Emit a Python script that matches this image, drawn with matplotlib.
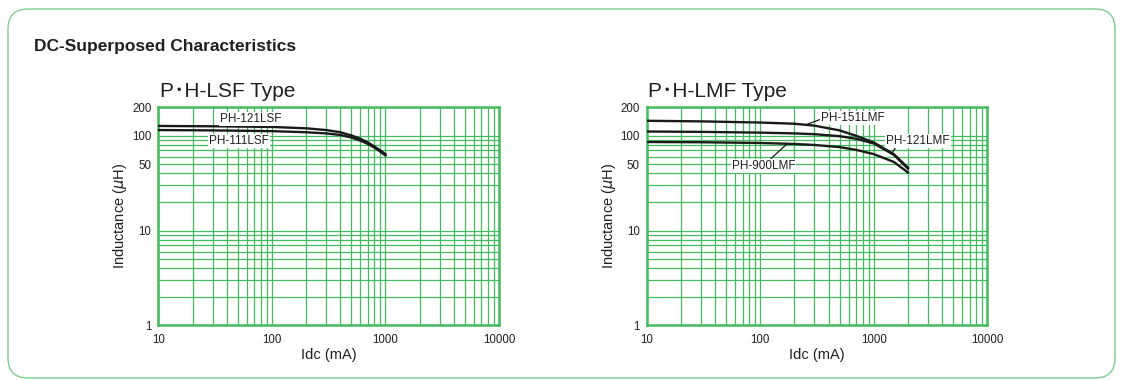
import numpy as np
import matplotlib
matplotlib.use("Agg")
import matplotlib.pyplot as plt
from matplotlib.ticker import LogLocator, NullFormatter, FixedLocator, FixedFormatter
from matplotlib.patches import FancyBboxPatch

plt.rcParams['font.family'] = ['Liberation Sans', 'Noto Sans CJK JP', 'DejaVu Sans']

# --- Daten ---
lsf_ma = [10, 30, 100, 200, 300, 400, 500, 600, 700, 800, 900, 1000]
ph121lsf = [127, 126, 124, 120, 115, 109, 101, 93, 85, 77, 70, 64]
ph111lsf = [115, 114, 112, 109, 106, 102, 96, 89, 82, 75, 68, 62]

lmf_ma = [10, 30, 100, 200, 300, 500, 700, 1000, 1500, 2000]
ph151lmf = [144, 142, 138, 134, 128, 114, 100, 85, 64, 46]
ph121lmf = [111, 110, 108, 106, 104, 99, 93, 83, 63, 45]
ph900lmf = [86, 85.5, 84, 82, 80, 76, 71, 64, 53, 41]

x_ticks = [10, 100, 1000, 10000]
y_ticks = [1, 10, 50, 100, 200]

GREEN = '#45bb5f'
FRAME = '#7ccf8c'
TXT = '#231f20'
LINE = '#1a1a1a'

fig = plt.figure(figsize=(11.23, 3.80), dpi=100)

# Hintergrund-Achse in Pixeln für den abgerundeten Rahmen
bg = fig.add_axes([0, 0, 1, 1], zorder=-5)
bg.set_xlim(0, 1123)
bg.set_ylim(380, 0)
bg.axis('off')
bg.add_patch(FancyBboxPatch((8, 9), 1107, 369,
                            boxstyle="round,pad=0,rounding_size=20",
                            fill=False, edgecolor=FRAME, linewidth=1.0))

fig.text(34 / 1123, 1 - 46 / 380, 'DC-Superposed Characteristics',
         fontsize=12.5, fontweight='bold', color=TXT, va='center', ha='left')


def setup_axes(ax, title):
    ax.set_xscale('log')
    ax.set_yscale('log')
    ax.set_xlim(10, 10000)
    ax.set_ylim(1, 200)
    ax.xaxis.set_major_locator(FixedLocator(x_ticks))
    ax.xaxis.set_major_formatter(FixedFormatter([str(t) for t in x_ticks]))
    ax.xaxis.set_minor_locator(LogLocator(base=10, subs=np.arange(2, 10)))
    ax.xaxis.set_minor_formatter(NullFormatter())
    ax.yaxis.set_major_locator(FixedLocator(y_ticks))
    ax.yaxis.set_major_formatter(FixedFormatter([str(t) for t in y_ticks]))
    ax.yaxis.set_minor_locator(LogLocator(base=10, subs=np.arange(2, 10)))
    ax.yaxis.set_minor_formatter(NullFormatter())
    ax.grid(which='both', color=GREEN, linewidth=0.9)
    ax.set_axisbelow(True)
    ax.tick_params(which='both', length=0, labelsize=8.3, labelcolor=TXT)
    ax.tick_params(axis='x', pad=6)
    ax.tick_params(axis='y', pad=5)
    for s in ax.spines.values():
        s.set_color(GREEN)
        s.set_linewidth(1.8)
    ax.set_xlabel('Idc (mA)', fontsize=10.5, color=TXT, labelpad=2)
    ax.set_ylabel(r'Inductance ($\mu$H)', fontsize=10.5, color=TXT, labelpad=2)
    ax.text(0.005, 1.03, title, transform=ax.transAxes, fontsize=15,
            color=TXT, ha='left', va='bottom')


box = dict(facecolor='white', edgecolor='none', pad=0.8)
leader = dict(arrowstyle='-', color=LINE, lw=0.9, shrinkA=0, shrinkB=0)

# linkes Diagramm
ax1 = fig.add_axes([0.1410, 0.1440, 0.3034, 0.5737])
setup_axes(ax1, 'P\uff65H-LSF Type')
ax1.plot(lsf_ma, ph121lsf, color=LINE, lw=1.7, zorder=3)
ax1.plot(lsf_ma, ph111lsf, color=LINE, lw=1.7, zorder=3)
ax1.text(65, 151, 'PH-121LSF', fontsize=8.5, color=TXT, ha='center', va='center', bbox=box, zorder=4)
ax1.text(51, 88, 'PH-111LSF', fontsize=8.5, color=TXT, ha='center', va='center', bbox=box, zorder=4)

# rechtes Diagramm
ax2 = fig.add_axes([0.5759, 0.1440, 0.3033, 0.5737])
setup_axes(ax2, 'P\uff65H-LMF Type')
ax2.plot(lmf_ma, ph151lmf, color=LINE, lw=1.7, zorder=3)
ax2.plot(lmf_ma, ph121lmf, color=LINE, lw=1.7, zorder=3)
ax2.plot(lmf_ma, ph900lmf, color=LINE, lw=1.7, zorder=3)

ax2.annotate('PH-151LMF', xy=(258, 132), xytext=(346, 155), fontsize=8.5, color=TXT,
             ha='left', va='center', bbox=box, zorder=4,
             arrowprops=dict(leader, relpos=(0.0, 0.4)))
ax2.annotate('PH-121LMF', xy=(1430, 64), xytext=(1291, 88), fontsize=8.5, color=TXT,
             ha='left', va='center', bbox=box, zorder=4,
             arrowprops=dict(leader, relpos=(0.15, 0.0)))
ax2.annotate('PH-900LMF', xy=(170, 81), xytext=(56, 48.5), fontsize=8.5, color=TXT,
             ha='left', va='center', bbox=box, zorder=4,
             arrowprops=dict(leader, relpos=(0.6, 1.0)))

fig.savefig('out.png', dpi=100)
